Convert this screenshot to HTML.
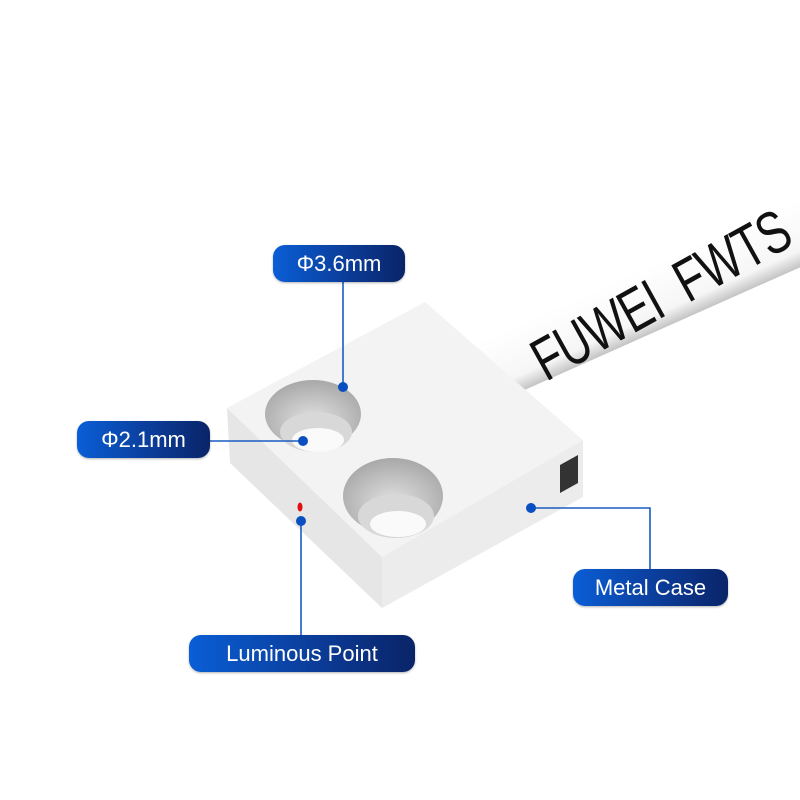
<!DOCTYPE html>
<html><head><meta charset="utf-8"><style>
body{margin:0;width:800px;height:800px;background:#fff;overflow:hidden}
.pill{position:absolute;height:37px;border-radius:12px;background:linear-gradient(90deg,#0a5ed6,#0b3a94 60%,#0a2468);color:#fff;font:22px "Liberation Sans",sans-serif;line-height:37px;text-align:center;box-shadow:0 1px 2px rgba(0,0,0,.3)}
</style></head><body>
<svg width="800" height="800" style="position:absolute;left:0;top:0">
<defs>
<linearGradient id="cab" x1="0" y1="0" x2="0" y2="1"><stop offset="0" stop-color="#fff"/><stop offset=".75" stop-color="#f6f6f6"/><stop offset="1" stop-color="#c4c4c4"/></linearGradient>
<radialGradient id="hole" cx=".5" cy=".6" r=".6"><stop offset="0" stop-color="#e2e2e2"/><stop offset="1" stop-color="#a8a8a8"/></radialGradient>
</defs>
<g transform="translate(520,392) rotate(-24)">
<rect x="-40" y="-62" width="400" height="62" fill="url(#cab)"/>
</g>
<g transform="translate(546,382) rotate(-29)">
<text x="0" y="0" font-family="Liberation Sans,sans-serif" font-size="60" fill="#111" transform="scale(0.74,1)" letter-spacing="-1">FUWEI&#160;&#160;FWTS</text>
</g>
<polygon points="227,408 425,302 583,440 382,557" fill="#f3f3f3"/>
<polygon points="227,408 382,557 382,608 230,463" fill="#e6e6e6"/>
<polygon points="382,557 583,440 583,497 382,608" fill="#ececec"/>
<polygon points="560,465 578,455 578,483 560,493" fill="#333"/>
<ellipse cx="313" cy="414" rx="48" ry="34" fill="url(#hole)"/>
<ellipse cx="316" cy="432" rx="36" ry="20" fill="#d8d8d8"/>
<ellipse cx="318" cy="440" rx="26" ry="12" fill="#fafafa"/>
<ellipse cx="393" cy="496" rx="50" ry="38" fill="url(#hole)"/>
<ellipse cx="396" cy="516" rx="38" ry="22" fill="#d8d8d8"/>
<ellipse cx="398" cy="524" rx="28" ry="13" fill="#fafafa"/>
<ellipse cx="300" cy="507" rx="2.5" ry="4.5" fill="#e01010"/>
<g stroke="#1a5cc0" stroke-width="1.6" fill="none">
<line x1="343" y1="387" x2="343" y2="282"/>
<line x1="210" y1="441" x2="303" y2="441"/>
<line x1="301" y1="521" x2="301" y2="636"/>
<polyline points="531,508 650,508 650,570"/>
</g>
<g fill="#0a4fc0">
<circle cx="343" cy="387" r="5"/><circle cx="303" cy="441" r="5"/><circle cx="301" cy="521" r="5"/><circle cx="531" cy="508" r="5"/>
</g>
</svg>
<div class="pill" style="left:273px;top:245px;width:132px">Φ3.6mm</div>
<div class="pill" style="left:77px;top:421px;width:133px">Φ2.1mm</div>
<div class="pill" style="left:573px;top:569px;width:155px">Metal Case</div>
<div class="pill" style="left:189px;top:635px;width:226px">Luminous Point</div>
</body></html>
